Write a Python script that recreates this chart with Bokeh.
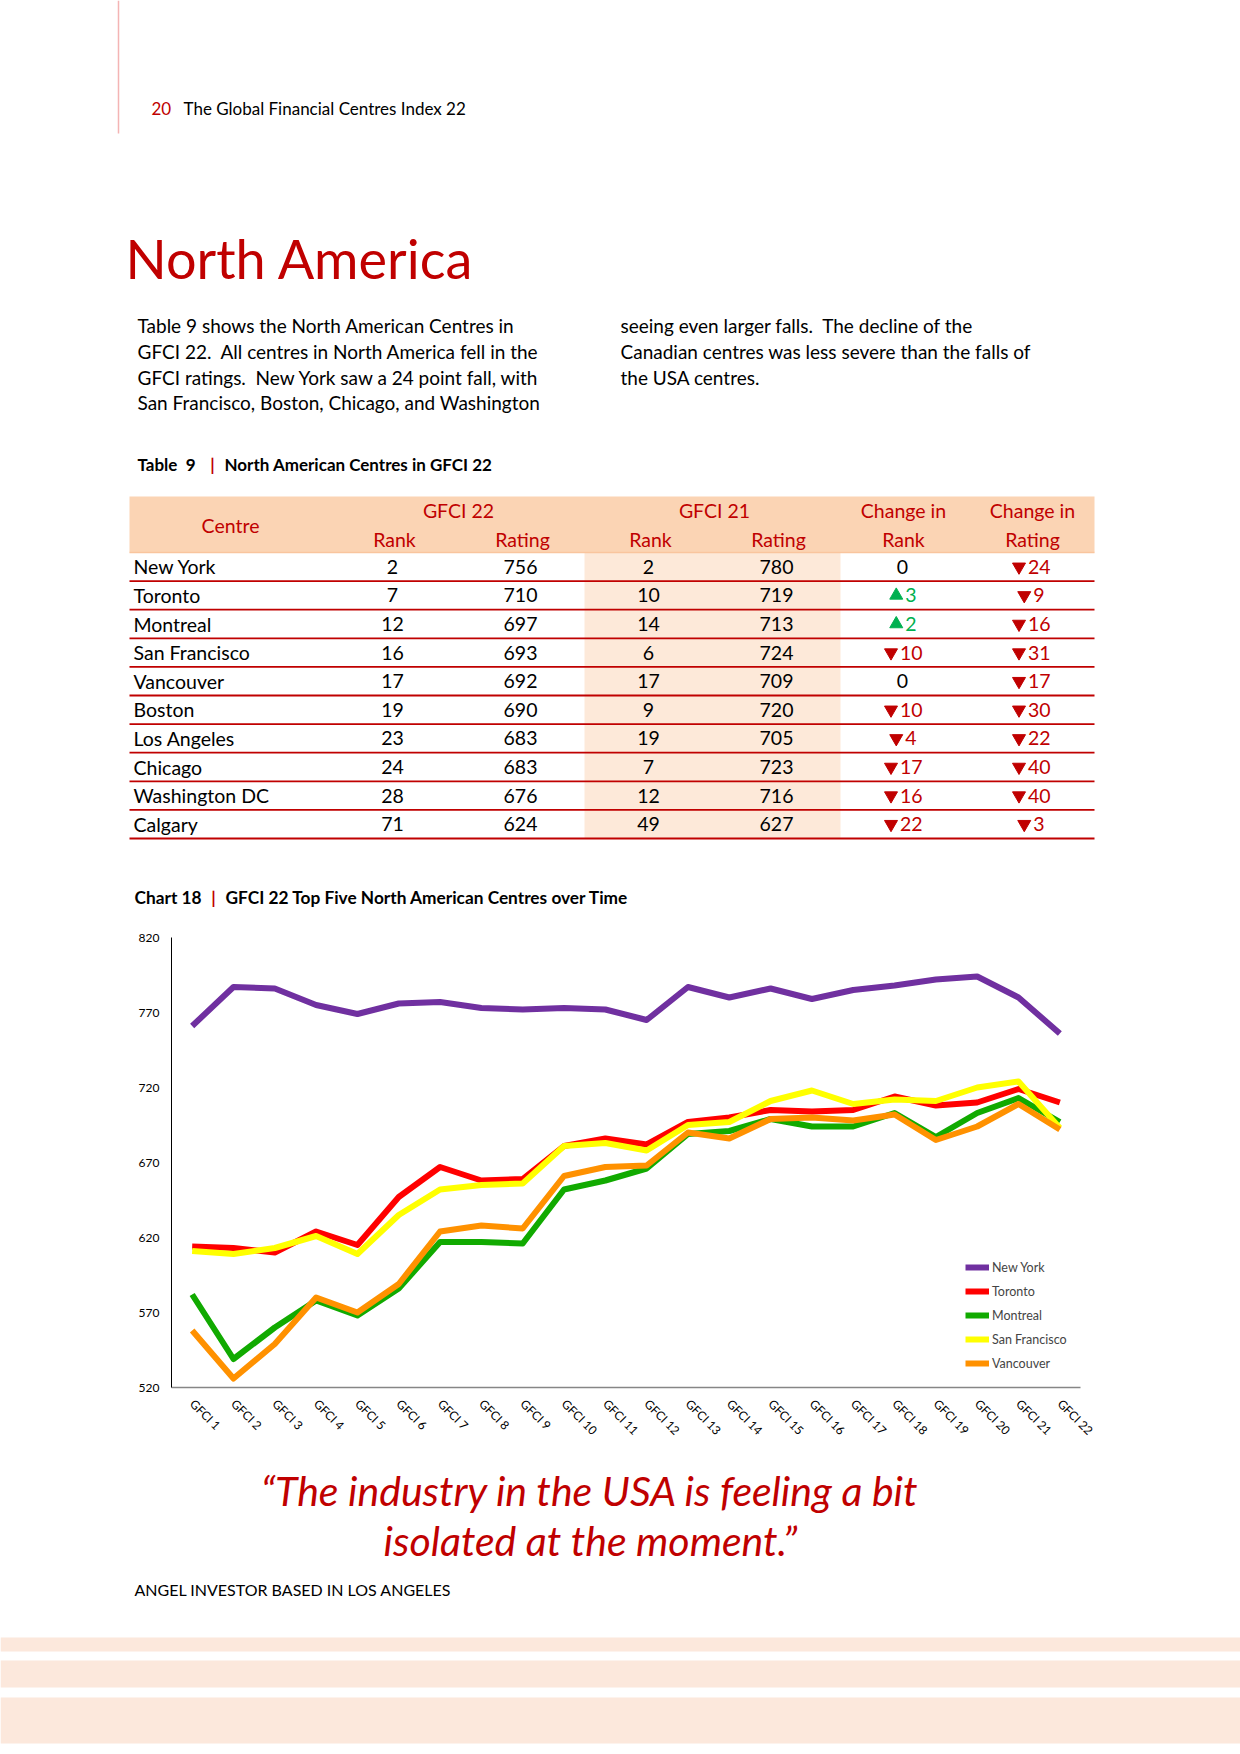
import math
from bokeh.plotting import figure
from bokeh.models import ColumnDataSource, Range1d, FactorRange, FixedTicker, Legend, LegendItem
from bokeh.layouts import column
from bokeh.core.properties import value
from bokeh.embed import file_html
from bokeh.resources import INLINE

FONT = "Lato"
RED = "#C00000"
GREEN = "#00B050"

# ---------------- data ----------------
centres = ["New York", "Toronto", "Montreal", "San Francisco", "Vancouver",
           "Boston", "Los Angeles", "Chicago", "Washington DC", "Calgary"]
rank22 = [2, 7, 12, 16, 17, 19, 23, 24, 28, 71]
rating22 = [756, 710, 697, 693, 692, 690, 683, 683, 676, 624]
rank21 = [2, 10, 14, 6, 17, 9, 19, 7, 12, 49]
rating21 = [780, 719, 713, 724, 709, 720, 705, 723, 716, 627]

editions = ["GFCI 1", "GFCI 2", "GFCI 3", "GFCI 4", "GFCI 5", "GFCI 6", "GFCI 7",
            "GFCI 8", "GFCI 9", "GFCI 10", "GFCI 11", "GFCI 12", "GFCI 13", "GFCI 14",
            "GFCI 15", "GFCI 16", "GFCI 17", "GFCI 18", "GFCI 19", "GFCI 20",
            "GFCI 21", "GFCI 22"]
new_york = [761, 787, 786, 775, 769, 776, 777, 773, 772, 773, 772, 765, 787, 780,
            786, 779, 785, 788, 792, 794, 780, 756]
toronto = [614, 613, 610, 624, 615, 647, 667, 658, 659, 681, 686, 682, 697, 700,
           705, 704, 705, 714, 708, 710, 719, 710]
montreal = [582, 539, 560, 578, 568, 586, 617, 617, 616, 652, 658, 666, 689, 691,
            699, 694, 694, 703, 687, 703, 713, 697]
san_francisco = [611, 609, 613, 621, 609, 635, 652, 655, 656, 681, 683, 678, 695, 697,
                 711, 718, 709, 712, 711, 720, 724, 693]
vancouver = [558, 526, 549, 580, 570, 589, 624, 628, 626, 661, 667, 668, 690, 686,
             699, 700, 698, 702, 685, 694, 709, 692]
y_ticks = [520, 570, 620, 670, 720, 770, 820]

series_names = ["New York", "Toronto", "Montreal", "San Francisco", "Vancouver"]
series_values = [new_york, toronto, montreal, san_francisco, vancouver]
series_colors = ["#7030A0", "#FF0000", "#11AA00", "#FFFF00", "#FF9100"]

W = 1240
NB = "\u00a0"


def page_fig(y0, y1):
    p = figure(width=W, height=y1 - y0, x_range=Range1d(0, W), y_range=Range1d(y1, y0),
               output_backend="svg", toolbar_location=None, min_border=0,
               x_axis_location=None, y_axis_location=None)
    p.grid.visible = False
    p.outline_line_color = None
    p.background_fill_color = "white"
    p.border_fill_color = "white"
    p.frame_align = False
    return p


def txt(p, x, y, s, size, color="black", align="left", baseline="middle", style="normal"):
    p.text(x=[x], y=[y], text=[s], text_font=value(FONT), text_font_size=f"{size}px",
           text_color=color, text_align=align, text_baseline=baseline, text_font_style=style)


# ---------------- top section ----------------
top = page_fig(0, 915)
top.segment(x0=[118], y0=[0], x1=[118], y1=[133], line_color="#F4B4B4", line_width=1.5)
txt(top, 151, 108, "20", 17, RED)
txt(top, 183, 108, "The Global Financial Centres Index 22", 17)
txt(top, 125, 258, "North America", 54, RED, baseline="alphabetic")

col1 = ["Table 9 shows the North American Centres in",
        "GFCI 22." + NB + " All centres in North America fell in the",
        "GFCI ratings." + NB + " New York saw a 24 point fall, with",
        "San Francisco, Boston, Chicago, and Washington"]
col2 = ["seeing even larger falls." + NB + " The decline of the",
        "Canadian centres was less severe than the falls of",
        "the USA centres."]
for i, s in enumerate(col1):
    txt(top, 137, 325 + 25.8 * i, s, 19)
for i, s in enumerate(col2):
    txt(top, 620, 325 + 25.8 * i, s, 19)

txt(top, 137, 464, "Table" + NB + " 9", 17, style="bold")
txt(top, 212, 464, "|", 17, RED, align="center", style="bold")
txt(top, 224, 464, "North American Centres in GFCI 22", 17, style="bold")

# table
TL, TR = 129, 1094
HT, HB = 496, 552
RH = 28.6
FS = 19.5
n = len(centres)
top.quad(left=[TL], right=[TR], top=[HT], bottom=[HB], fill_color="#FBD4B4", line_color=None)
top.quad(left=[584], right=[840], top=[HB], bottom=[HB + RH * n], fill_color="#FDE9D9",
         line_color=None)
top.segment(x0=[TL], y0=[HB], x1=[TR], y1=[HB], line_color="#F9C59E", line_width=1.5)
line_y = [HB + RH * (i + 1) for i in range(n)]
top.segment(x0=[TL] * n, y0=line_y, x1=[TR] * n, y1=line_y, line_color=RED, line_width=1.8)

hx, hy, ht = [], [], []
for x, y, s in [(230, 525, "Centre"), (458, 510, "GFCI 22"), (394, 539, "Rank"),
                (522, 539, "Rating"), (714, 510, "GFCI 21"), (650, 539, "Rank"),
                (778, 539, "Rating"), (903, 510, "Change in"), (903, 539, "Rank"),
                (1032, 510, "Change in"), (1032, 539, "Rating")]:
    hx.append(x); hy.append(y); ht.append(s)
top.text(x=hx, y=hy, text=ht, text_font=value(FONT), text_font_size=f"{FS}px",
         text_color=RED, text_align="center", text_baseline="middle")

cx, cy, ct, cc = [], [], [], []
mx, my, mm, mc = [], [], [], []
DIGIT = 10.5
for i in range(n):
    y = HB + RH * (i + 0.5)
    for x, v in [(392, rank22[i]), (520, rating22[i]), (648, rank21[i]), (776, rating21[i])]:
        cx.append(x); cy.append(y); ct.append(str(v)); cc.append("black")
    for x, d in [(902, rank21[i] - rank22[i]), (1030, rating22[i] - rating21[i])]:
        if d == 0:
            cx.append(x); cy.append(y); ct.append("0"); cc.append("black")
            continue
        s = str(abs(d))
        col = GREEN if d > 0 else RED
        w = 14 + 2 + DIGIT * len(s)
        start = x - w / 2
        mx.append(start + 7); my.append(y)
        mm.append("triangle" if d > 0 else "inverted_triangle"); mc.append(col)
        cx.append(start + 16); cy.append(y); ct.append(s); cc.append(col)
tsrc = ColumnDataSource(dict(x=cx, y=cy, t=ct, c=cc,
                             a=["center" if c == "black" else "left" for c in cc]))
top.text(x="x", y="y", text="t", text_color="c", text_align="a", source=tsrc,
         text_font=value(FONT), text_font_size=f"{FS}px", text_baseline="middle")
top.scatter(x="x", y="y", marker="m", fill_color="c", line_color="c", size=13,
            source=ColumnDataSource(dict(x=mx, y=my, m=mm, c=mc)))
top.text(x=[133] * n, y=[HB + RH * (i + 0.5) for i in range(n)], text=centres,
         text_font=value(FONT), text_font_size=f"{FS}px", text_color="black",
         text_align="left", text_baseline="middle")

txt(top, 134, 897, "Chart 18", 17.3, style="bold")
txt(top, 213, 897, "|", 17.3, RED, align="center", style="bold")
txt(top, 225, 897, "GFCI 22 Top Five North American Centres over Time", 17.3, style="bold")

# ---------------- chart ----------------
chart = figure(width=W, height=535, x_range=FactorRange(factors=editions),
               y_range=Range1d(520, 820), output_backend="svg", toolbar_location=None,
               min_border_left=171, min_border_right=160, min_border_top=22,
               min_border_bottom=63)
chart.frame_align = False
chart.grid.visible = False
chart.outline_line_color = None
chart.x_range.range_padding = 0

chart.yaxis.ticker = FixedTicker(ticks=y_ticks)
chart.yaxis.axis_line_color = "black"
chart.yaxis.axis_line_width = 1
chart.yaxis.major_tick_line_color = None
chart.yaxis.minor_tick_line_color = None
chart.yaxis.major_label_standoff = 6
chart.yaxis.major_label_text_font = FONT
chart.yaxis.major_label_text_font_size = "12px"
chart.yaxis.major_label_text_color = "black"

chart.xaxis.axis_line_color = "#868686"
chart.xaxis.axis_line_width = 1.5
chart.xaxis.major_tick_line_color = None
chart.xaxis.minor_tick_line_color = None
chart.xaxis.major_label_orientation = -math.pi / 4
chart.xaxis.major_label_standoff = 8
chart.xaxis.major_label_text_font = FONT
chart.xaxis.major_label_text_font_size = "12px"
chart.xaxis.major_label_text_color = "black"

items = []
for name, vals, col in zip(series_names, series_values, series_colors):
    r = chart.line(x=editions, y=vals, line_width=6, line_color=col, line_join="round")
    items.append(LegendItem(label=name, renderers=[r]))

legend = Legend(items=items, location=(794, 14), glyph_width=24, glyph_height=20,
                label_height=20, spacing=4, padding=0, margin=0, label_standoff=3,
                border_line_color=None, background_fill_alpha=0,
                label_text_font=FONT, label_text_font_size="12.5px")
chart.add_layout(legend)

# ---------------- bottom ----------------
bottom = page_fig(1450, 1754)
bottom.quad(left=[0, 0, 0], right=[W, W, W], top=[1637, 1660, 1697],
            bottom=[1651, 1687, 1743], fill_color="#FCE8DC", line_color=None)
txt(bottom, 590, 1490, "\u201CThe industry in the USA is feeling a bit", 41, RED,
    align="center", style="italic")
txt(bottom, 590, 1540, "isolated at the moment.\u201D", 41, RED, align="center",
    style="italic")
txt(bottom, 134, 1589, "ANGEL INVESTOR BASED IN LOS ANGELES", 16)

page = column(top, chart, bottom, spacing=0)
open("out.html", "w").write(file_html(page, INLINE))
